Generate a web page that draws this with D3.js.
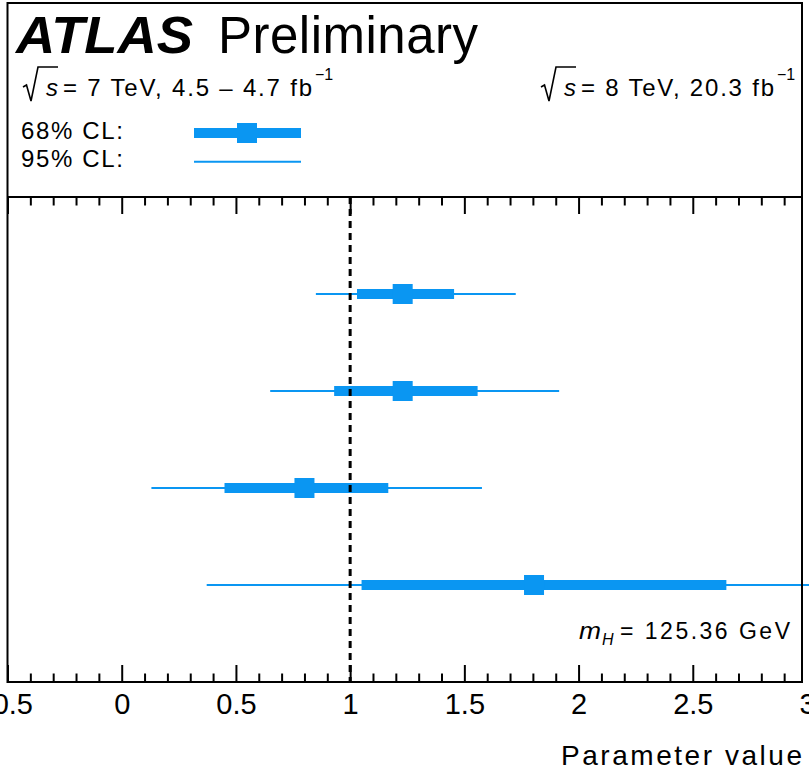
<!DOCTYPE html>
<html>
<head>
<meta charset="utf-8">
<script src="https://cdn.jsdelivr.net/npm/d3@7"></script>
<style>
  html, body { margin: 0; padding: 0; background: #fff; }
  svg { display: block; font-family: "Liberation Sans", Arial, Helvetica, sans-serif; }
</style>
</head>
<body>
<svg id="chart" width="809" height="773"></svg>
<script>
// Fit results per row: best-fit value with 68% and 95% CL intervals
const rows = [1, 2, 3, 4];
const best = [1.23, 1.23, 0.80, 1.805];
const lo68 = [1.03, 0.93, 0.45, 1.05];
const hi68 = [1.455, 1.558, 1.167, 2.647];
const lo95 = [0.85, 0.65, 0.13, 0.372];
const hi95 = [1.725, 1.915, 1.577, 3.1];

// Axis ticks and labels
const majorTicks = [-0.5, 0, 0.5, 1, 1.5, 2, 2.5, 3];
const tickLabels = ["-0.5", "0", "0.5", "1", "1.5", "2", "2.5", "3"];
const referenceValue = 1;

const blue = "#0a96f2";
const svg = d3.select("#chart");

// frame geometry
const L = 7.5, R = 802, T = 3, D = 197, B = 682;

const x = d3.scaleLinear().domain([-0.5, 3]).range([7.5, 807]);
const y = d3.scaleLinear().domain([0, 5]).range([D, B]);

svg.append("rect").attr("width", 809).attr("height", 773).attr("fill", "#fff");

// ---- intervals ----
const data = rows.map((r, i) => ({
  r, best: best[i], lo68: lo68[i], hi68: hi68[i], lo95: lo95[i], hi95: hi95[i]
}));

const marks = svg.append("g");
marks.selectAll("line.ci95").data(data).join("line")
  .attr("class", "ci95")
  .attr("x1", d => x(d.lo95)).attr("x2", d => x(d.hi95))
  .attr("y1", d => y(d.r)).attr("y2", d => y(d.r))
  .attr("stroke", blue).attr("stroke-width", 2);

marks.selectAll("rect.ci68").data(data).join("rect")
  .attr("class", "ci68")
  .attr("x", d => x(d.lo68)).attr("width", d => x(d.hi68) - x(d.lo68))
  .attr("y", d => y(d.r) - 5).attr("height", 10)
  .attr("fill", blue);

marks.selectAll("rect.pt").data(data).join("rect")
  .attr("class", "pt")
  .attr("x", d => x(d.best) - 10).attr("width", 20)
  .attr("y", d => y(d.r) - 10).attr("height", 20)
  .attr("fill", blue);

// ---- reference line ----
svg.append("line")
  .attr("x1", x(referenceValue)).attr("x2", x(referenceValue))
  .attr("y1", D).attr("y2", B)
  .attr("stroke", "#000").attr("stroke-width", 3)
  .attr("stroke-dasharray", "7,5");

// ---- frame ----
svg.append("rect")
  .attr("x", L).attr("y", T).attr("width", R - L).attr("height", B - T)
  .attr("fill", "none").attr("stroke", "#000").attr("stroke-width", 2);
svg.append("line")
  .attr("x1", L).attr("x2", R).attr("y1", D).attr("y2", D)
  .attr("stroke", "#000").attr("stroke-width", 2);

// ---- axes ----
const minorTicks = x.ticks(35).filter(v => !majorTicks.some(m => Math.abs(m - v) < 1e-6));

function styleAxis(g) {
  g.select(".domain").remove();
  g.selectAll(".tick line").attr("stroke", "#000").attr("stroke-width", 2);
  g.selectAll(".tick").filter(d => x(d) > R - 1).select("line").remove();
  g.selectAll(".tick text")
    .attr("fill", "#000")
    .style("font-size", "29px")
    .style("font-family", "\"Liberation Sans\", Arial, sans-serif");
}

svg.append("g").attr("transform", `translate(0,${B})`)
  .call(d3.axisBottom(x).tickValues(majorTicks)
    .tickFormat((d, i) => tickLabels[i])
    .tickSize(-17).tickSizeOuter(0).tickPadding(11))
  .call(styleAxis);

svg.append("g").attr("transform", `translate(0,${B})`)
  .call(d3.axisBottom(x).tickValues(minorTicks).tickFormat("")
    .tickSize(-8.5).tickSizeOuter(0))
  .call(styleAxis);

svg.append("g").attr("transform", `translate(0,${D})`)
  .call(d3.axisTop(x).tickValues(majorTicks).tickFormat("")
    .tickSize(-17).tickSizeOuter(0))
  .call(styleAxis);

svg.append("g").attr("transform", `translate(0,${D})`)
  .call(d3.axisTop(x).tickValues(minorTicks).tickFormat("")
    .tickSize(-8.5).tickSizeOuter(0))
  .call(styleAxis);

// x-axis title
svg.append("text")
  .attr("x", 561).attr("y", 765)
  .attr("textLength", 241).attr("lengthAdjust", "spacing")
  .style("font-size", "28px")
  .text("Parameter value");

// ---- header ----
svg.append("text")
  .attr("x", 16).attr("y", 53)
  .attr("textLength", 177).attr("lengthAdjust", "spacingAndGlyphs")
  .style("font-size", "51px").style("font-weight", "bold").style("font-style", "italic")
  .text("ATLAS");
svg.append("text")
  .attr("x", 218).attr("y", 53)
  .attr("textLength", 260).attr("lengthAdjust", "spacing")
  .style("font-size", "51px")
  .text("Preliminary");

// centre-of-mass energy labels with a drawn radical sign
function energyLabel(x0, body, bodyLen) {
  svg.append("path")
    .attr("d", `M${x0},87 L${x0 + 3.5},85 L${x0 + 8},101 L${x0 + 15},67 L${x0 + 35},67`)
    .attr("fill", "none").attr("stroke", "#000").attr("stroke-width", 1.6);
  svg.append("text")
    .attr("x", x0 + 23).attr("y", 96)
    .style("font-size", "24px").style("font-style", "italic")
    .text("s");
  svg.append("text")
    .attr("x", x0 + 40).attr("y", 96)
    .attr("textLength", bodyLen).attr("lengthAdjust", "spacing")
    .style("font-size", "24px")
    .text(body);
  svg.append("text")
    .attr("x", x0 + 40 + bodyLen + 3).attr("y", 80)
    .style("font-size", "16px")
    .text("\u22121");
}
energyLabel(23, "= 7 TeV, 4.5 \u2013 4.7 fb", 249);
energyLabel(541, "= 8 TeV, 20.3 fb", 193);

// ---- legend ----
svg.append("text")
  .attr("x", 21).attr("y", 139)
  .attr("textLength", 102).attr("lengthAdjust", "spacing")
  .style("font-size", "24px").text("68% CL:");
svg.append("text")
  .attr("x", 21).attr("y", 166.5)
  .attr("textLength", 102).attr("lengthAdjust", "spacing")
  .style("font-size", "24px").text("95% CL:");

const leg = svg.append("g");
leg.append("rect").attr("x", 194).attr("y", 128).attr("width", 107).attr("height", 10).attr("fill", blue);
leg.append("rect").attr("x", 237).attr("y", 123).attr("width", 20).attr("height", 20).attr("fill", blue);
leg.append("line").attr("x1", 194).attr("x2", 301).attr("y1", 161.7).attr("y2", 161.7)
  .attr("stroke", blue).attr("stroke-width", 2);

// ---- Higgs mass annotation ----
svg.append("text")
  .attr("x", 579).attr("y", 639)
  .attr("textLength", 22).attr("lengthAdjust", "spacingAndGlyphs")
  .style("font-size", "23px").style("font-style", "italic").text("m");
svg.append("text")
  .attr("x", 602).attr("y", 645)
  .style("font-size", "16px").style("font-style", "italic").text("H");
svg.append("text")
  .attr("x", 620).attr("y", 639)
  .attr("textLength", 170).attr("lengthAdjust", "spacing")
  .style("font-size", "23px").text("= 125.36 GeV");
</script>
</body>
</html>
